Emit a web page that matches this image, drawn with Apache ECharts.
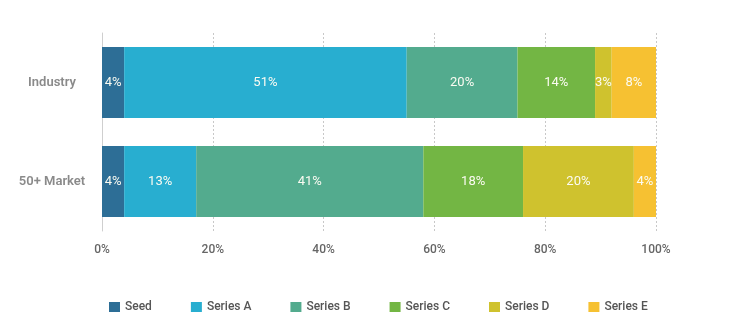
<!DOCTYPE html>
<html>
<head>
<meta charset="utf-8">
<script src="https://cdn.jsdelivr.net/npm/echarts@6/dist/echarts.min.js"></script>
<style>
  html, body { margin: 0; padding: 0; background: #fff; }
  #chart { width: 740px; height: 334px; }
</style>
</head>
<body>
<div id="chart"></div>
<script>
// Funding stage mix, percent of total, per group
const categories = ['Industry', '50+ Market'];
const stageNames = ['Seed', 'Series A', 'Series B', 'Series C', 'Series D', 'Series E'];
const seed    = [4, 4];
const seriesA = [51, 13];
const seriesB = [20, 41];
const seriesC = [14, 18];
const seriesD = [3, 20];
const seriesE = [8, 4];
const xTicks  = [0, 20, 40, 60, 80, 100];

const stageValues = [seed, seriesA, seriesB, seriesC, seriesD, seriesE];
const stageColors = ['#2d6e96', '#28aed0', '#53ab8e', '#73b644', '#cfc22e', '#f6c132'];

const FONT = 'Roboto, "Open Sans", sans-serif';

const chart = echarts.init(document.getElementById('chart'), null, { renderer: 'canvas' });

chart.setOption({
  animation: false,
  backgroundColor: '#ffffff',
  grid: { left: 102, right: 84, top: 33, bottom: 103, containLabel: false },
  legend: {
    data: stageNames,
    left: 104,
    top: 296,
    itemWidth: 11,
    itemHeight: 10,
    itemGap: 39,
    icon: 'rect',
    textStyle: { fontFamily: FONT, fontSize: 12, color: '#555', fontWeight: 500 }
  },
  xAxis: {
    type: 'value',
    min: xTicks[0],
    max: xTicks[xTicks.length - 1],
    interval: 20,
    axisLine: { show: false },
    axisTick: { show: false },
    axisLabel: {
      formatter: '{value}%',
      margin: 13,
      fontFamily: FONT,
      fontSize: 12,
      color: '#666',
      fontWeight: 500
    },
    splitLine: { show: true, lineStyle: { color: '#c8c8c8', type: [2, 2], width: 1 } }
  },
  yAxis: {
    type: 'category',
    data: categories,
    inverse: true,
    axisLine: { show: true, lineStyle: { color: '#cfcfcf', width: 1 } },
    axisTick: { show: false },
    axisLabel: {
      align: 'center',
      margin: 50,
      padding: [5, 0, 0, 0],
      fontFamily: FONT,
      fontSize: 13,
      fontWeight: 600,
      color: '#8a8a8a'
    }
  },
  series: stageNames.map((name, i) => ({
    name,
    type: 'bar',
    stack: 'total',
    barWidth: 71,
    itemStyle: { color: stageColors[i] },
    label: {
      show: true,
      position: 'inside',
      formatter: p => p.value + '%',
      color: '#fbfbf2',
      fontFamily: FONT,
      fontSize: 13,
      padding: [4, 0, 0, 0]
    },
    data: stageValues[i]
  }))
});
</script>
</body>
</html>
